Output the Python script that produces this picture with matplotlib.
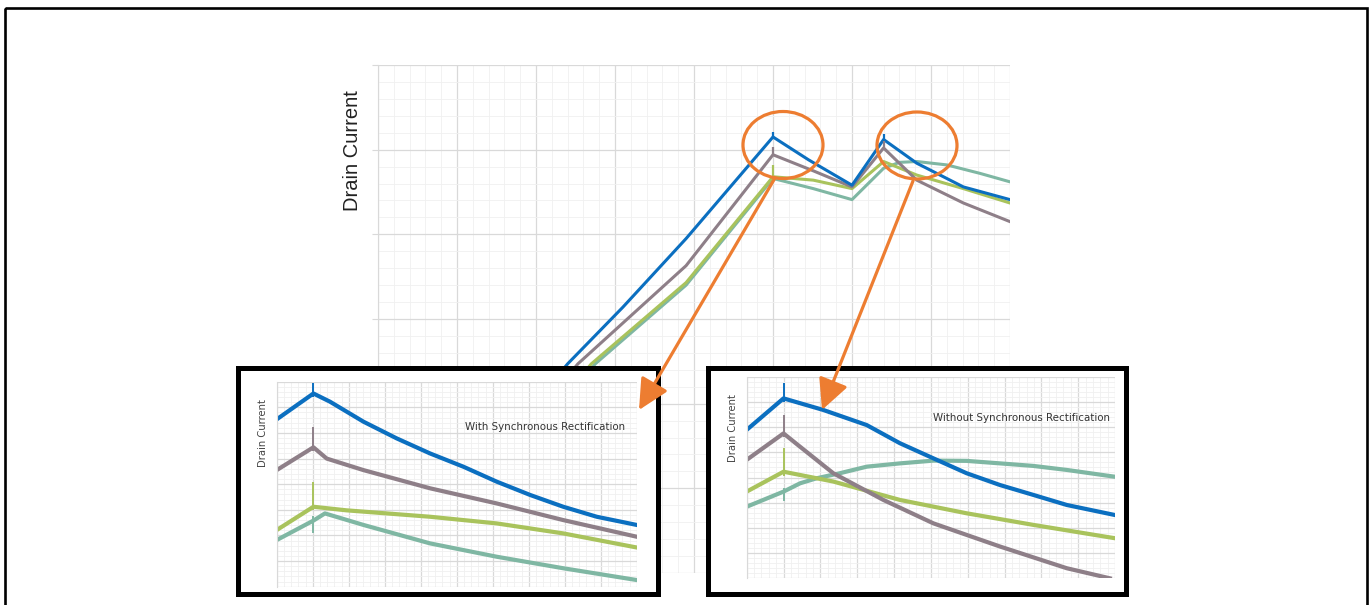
import matplotlib
matplotlib.use("Agg")
import matplotlib.pyplot as plt
from matplotlib.patches import Ellipse, Rectangle, FancyArrowPatch
from matplotlib.ticker import MultipleLocator, NullFormatter

W, H = 1371, 605
DPI = 100

# ---------------- data (main chart, grid units) ----------------
blue_x = [1.29, 2.40, 3.10, 3.90, 5.00, 5.45, 6.00, 6.40, 6.82, 7.41, 8.0]
blue_y = [1.22, 2.47, 3.14, 3.95, 5.15, 4.88, 4.58, 5.12, 4.84, 4.56, 4.41]

gray_x = [1.42, 2.53, 3.90, 5.00, 5.51, 6.00, 6.40, 6.82, 7.41, 8.0]
gray_y = [1.22, 2.47, 3.63, 4.94, 4.75, 4.56, 5.02, 4.64, 4.37, 4.15]

green_x = [1.58, 2.70, 3.90, 5.00, 5.51, 6.00, 6.40, 6.82, 7.41, 8.0]
green_y = [1.22, 2.47, 3.43, 4.68, 4.64, 4.54, 4.86, 4.70, 4.54, 4.37]

teal_x = [1.63, 2.75, 3.90, 5.00, 5.51, 6.00, 6.40, 6.60, 6.82, 7.20, 7.62, 8.0]
teal_y = [1.22, 2.47, 3.40, 4.66, 4.54, 4.41, 4.78, 4.85, 4.86, 4.82, 4.72, 4.62]

# switching spikes on the main chart: x position, base and tip
main_spike_x = [5.0, 5.0, 5.0, 6.40, 6.40]
main_spike_lo = [5.15, 4.94, 4.68, 5.12, 5.02]
main_spike_hi = [5.21, 5.03, 4.82, 5.18, 5.10]
main_spike_color = ["blue", "gray", "green", "blue", "gray"]

# ---------------- data (inset: with synchronous rectification) ----------------
sr_blue_x = [0, 1.02, 1.48, 2.41, 3.33, 4.26, 5.19, 6.11, 7.04, 7.96, 8.89, 10]
sr_blue_y = [6.53, 7.54, 7.22, 6.44, 5.79, 5.20, 4.68, 4.10, 3.58, 3.12, 2.73, 2.41]
sr_gray_x = [0, 1.02, 1.39, 2.41, 4.26, 6.11, 7.96, 10]
sr_gray_y = [4.55, 5.44, 5.00, 4.55, 3.84, 3.25, 2.60, 1.95]
sr_green_x = [0, 1.02, 1.94, 4.26, 6.11, 7.96, 10]
sr_green_y = [2.21, 3.12, 2.98, 2.73, 2.47, 2.08, 1.53]
sr_teal_x = [0, 1.02, 1.34, 2.41, 4.26, 6.11, 7.96, 10]
sr_teal_y = [1.82, 2.58, 2.86, 2.41, 1.69, 1.17, 0.72, 0.26]
sr_spike_lo = [7.40, 5.30, 3.00, 2.10]   # blue, gray, green, teal
sr_spike_hi = [7.93, 6.24, 4.10, 2.75]

# ---------------- data (inset: without synchronous rectification) ----------------
nsr_blue_x = [0, 1.0, 2.08, 3.26, 4.16, 5.07, 5.97, 6.88, 7.78, 8.69, 10]
nsr_blue_y = [5.89, 7.14, 6.68, 6.08, 5.36, 4.76, 4.17, 3.70, 3.31, 2.91, 2.51]
nsr_gray_x = [0, 1.0, 1.45, 2.35, 3.71, 5.07, 6.88, 8.69, 9.86]
nsr_gray_y = [4.70, 5.75, 5.22, 4.17, 3.11, 2.18, 1.26, 0.40, 0.0]
nsr_green_x = [0, 1.0, 2.35, 4.16, 5.97, 7.78, 10]
nsr_green_y = [3.44, 4.23, 3.84, 3.11, 2.58, 2.12, 1.59]
nsr_teal_x = [0, 1.0, 1.45, 1.9, 2.53, 3.26, 4.16, 5.07, 5.97, 6.88, 7.78, 8.69, 10]
nsr_teal_y = [2.84, 3.44, 3.77, 3.97, 4.17, 4.43, 4.56, 4.67, 4.66, 4.56, 4.46, 4.30, 4.03]
nsr_spike_lo = [7.00, 5.60, 4.05, 3.05]
nsr_spike_hi = [7.74, 6.48, 5.16, 3.60]

ylabel_text = "Drain Current"
inset_titles = ["With Synchronous Rectification", "Without Synchronous Rectification"]

COLORS = {"blue": "#0b6fc0", "gray": "#8e7f88", "green": "#a9c35c", "teal": "#7fb7a3"}
C_ORANGE = "#ed7d31"
MAJ = "#d9d9d9"
MIN = "#f0f0f0"

fig = plt.figure(figsize=(W / DPI, H / DPI), dpi=DPI)
fig.patch.set_facecolor("white")


def px_axes(x0, y0, x1, y1, **kw):
    return fig.add_axes([x0 / W, 1 - y1 / H, (x1 - x0) / W, (y1 - y0) / H], **kw)


def style_grid(ax, xmax, ymax, sub=5):
    ax.set_xlim(0, xmax)
    ax.set_ylim(0, ymax)
    ax.xaxis.set_major_locator(MultipleLocator(1))
    ax.yaxis.set_major_locator(MultipleLocator(1))
    ax.xaxis.set_minor_locator(MultipleLocator(1 / sub))
    ax.yaxis.set_minor_locator(MultipleLocator(1 / sub))
    ax.grid(which="major", color=MAJ, lw=0.9)
    ax.grid(which="minor", color=MIN, lw=0.6)
    ax.set_axisbelow(True)
    ax.xaxis.set_major_formatter(NullFormatter())
    ax.yaxis.set_major_formatter(NullFormatter())
    ax.tick_params(which="both", length=0)
    for s in ax.spines.values():
        s.set_visible(False)


# ---------------- main chart ----------------
ax = px_axes(378, 65, 1010, 573)
style_grid(ax, 8, 6)
ax.spines["left"].set_visible(True)
ax.spines["left"].set_color(MAJ)
ax.tick_params(axis="y", which="major", length=4, color=MAJ)
lw_main = 2.2
ax.plot(teal_x, teal_y, color=COLORS["teal"], lw=lw_main)
ax.plot(green_x, green_y, color=COLORS["green"], lw=lw_main)
ax.plot(gray_x, gray_y, color=COLORS["gray"], lw=lw_main)
ax.plot(blue_x, blue_y, color=COLORS["blue"], lw=lw_main)
for sx, lo, hi, c in zip(main_spike_x, main_spike_lo, main_spike_hi, main_spike_color):
    ax.vlines(sx, lo, hi, color=COLORS[c], lw=1.6)
fig.text(352 / W, 1 - 151 / H, ylabel_text, rotation=90, ha="center", va="center",
         fontsize=14.5, family="Liberation Sans", color="#222222")

# ---------------- insets ----------------
order = ["blue", "gray", "green", "teal"]
insets = [
    dict(box=(237.5, 367.5, 657.5, 593.5), area=(276.7, 381.7, 636.7, 586.7), ylab_x=263, ylab_y=433,
         title=inset_titles[0], tx=0.967, ty=0.78, spike_x=1.02,
         spike_lo=sr_spike_lo, spike_hi=sr_spike_hi,
         series=[(sr_teal_x, sr_teal_y, "teal"), (sr_green_x, sr_green_y, "green"),
                 (sr_gray_x, sr_gray_y, "gray"), (sr_blue_x, sr_blue_y, "blue")]),
    dict(box=(708, 367.5, 1126, 593.5), area=(746.7, 376.7, 1115, 578.3), ylab_x=733, ylab_y=428,
         title=inset_titles[1], tx=0.986, ty=0.795, spike_x=1.0,
         spike_lo=nsr_spike_lo, spike_hi=nsr_spike_hi,
         series=[(nsr_teal_x, nsr_teal_y, "teal"), (nsr_green_x, nsr_green_y, "green"),
                 (nsr_gray_x, nsr_gray_y, "gray"), (nsr_blue_x, nsr_blue_y, "blue")]),
]

for ins in insets:
    bx = px_axes(*ins["box"])
    bx.set_facecolor("white")
    bx.set_xticks([])
    bx.set_yticks([])
    for s in bx.spines.values():
        s.set_color("black")
        s.set_linewidth(3.6)
    ia = px_axes(*ins["area"])
    style_grid(ia, 10, 8)
    ia.spines["left"].set_visible(True)
    ia.spines["left"].set_color(MAJ)
    for xs, ys, c in ins["series"]:
        ia.plot(xs, ys, color=COLORS[c], lw=3.0)
    for name, lo, hi in zip(order, ins["spike_lo"], ins["spike_hi"]):
        ia.vlines(ins["spike_x"], lo, hi, color=COLORS[name], lw=1.4)
    ia.text(ins["tx"], ins["ty"], ins["title"], transform=ia.transAxes, ha="right", va="center",
            fontsize=7.4, family="DejaVu Sans", color="#333333")
    fig.text(ins["ylab_x"] / W, 1 - ins["ylab_y"] / H, ylabel_text, rotation=90, ha="center",
             va="center", fontsize=7.2, family="DejaVu Sans", color="#444444")

# ---------------- overlay: frame, ellipses, arrows ----------------
ov = fig.add_axes([0, 0, 1, 1], facecolor="none")
ov.set_xlim(0, W)
ov.set_ylim(H, 0)
ov.axis("off")
ov.add_patch(Rectangle((4.5, 7.5), 1362, 640, fill=False, ec="black", lw=1.9))
for cx, cy in [(783, 145), (917, 145.5)]:
    ov.add_patch(Ellipse((cx, cy), 80, 67, fill=False, ec=C_ORANGE, lw=2.3))
for (x0, y0), (x1, y1) in [((775, 178), (639, 410)), ((913, 181), (822, 410))]:
    ov.add_patch(FancyArrowPatch((x0, y0), (x1, y1), arrowstyle="-|>,head_length=1.25,head_width=0.62",
                                 mutation_scale=15, color=C_ORANGE, lw=2.3, shrinkA=0, shrinkB=0))

fig.savefig("out.png", dpi=DPI, facecolor="white")
